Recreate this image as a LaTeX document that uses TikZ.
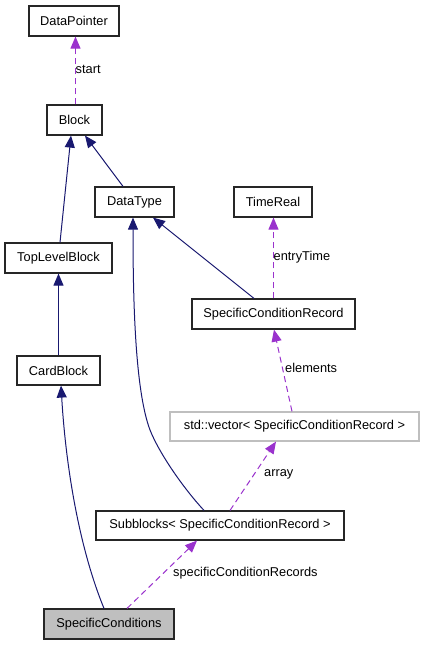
\documentclass[tikz,border=0pt]{standalone}
\usepackage{fontspec}
\setmainfont{Liberation Sans}
\usetikzlibrary{arrows.meta}
\definecolor{edgeblue}{HTML}{191970}
\definecolor{edgepurple}{HTML}{9A32CD}
\definecolor{boxgray}{HTML}{BFBFBF}
\begin{document}
\begin{tikzpicture}[x=1pt,y=-1pt,
  box/.style={draw=black!85,line width=1.2pt,rectangle,inner sep=0pt,minimum height=30pt,font=\fontsize{12.8}{15}\selectfont},
  inh/.style={draw=edgeblue,line width=1pt,-{Triangle[length=12pt,width=10pt]}},
  use/.style={draw=edgepurple,line width=1pt,dash pattern=on 6pt off 4pt,-{Triangle[length=12pt,width=10pt,fill=edgepurple]}},
  lbl/.style={anchor=west,inner sep=0pt,font=\fontsize{12.8}{15}\selectfont}]
\useasboundingbox (0,0) rectangle (424,645);
\node[box,minimum width=90pt] (DP) at (74,21) {DataPointer};
\node[box,minimum width=55pt] (Block) at (74.5,120) {Block};
\node[box,minimum width=79pt] (DT) at (134.5,202) {DataType};
\node[box,minimum width=78pt] (TR) at (273,202) {TimeReal};
\node[box,minimum width=107pt] (TLB) at (58.5,258) {TopLevelBlock};
\node[box,minimum width=163pt] (SCR) at (273.5,314) {SpecificConditionRecord};
\node[box,minimum width=83pt,minimum height=29pt] (CB) at (58.5,370.5) {CardBlock};
\node[box,draw=boxgray,minimum width=249pt,minimum height=29pt] (Vec) at (294.5,426.5) {std::vector< SpecificConditionRecord >};
\node[box,minimum width=248pt,minimum height=29pt] (Sub) at (220,525.5) {Subblocks< SpecificConditionRecord >};
\node[box,fill=boxgray,minimum width=130pt] (SC) at (109,624) {SpecificConditions};

\draw[use] ([xshift=1pt]Block.north) -- ([xshift=1.5pt]DP.south);
\draw[inh] ([xshift=1.5pt]TLB.north) -- ([xshift=-3.5pt]Block.south);
\draw[inh] ([xshift=-11.5pt]DT.north) -- ([xshift=10.5pt]Block.south);
\draw[inh] (CB.north) -- (TLB.south);
\draw[inh] ([xshift=-19.5pt]SCR.north) -- ([xshift=18.5pt]DT.south);
\draw[use] (SCR.north) -- ([xshift=0.5pt]TR.south);
\draw[use] ([xshift=-2.5pt]Vec.north) -- ([xshift=0.5pt]SCR.south);
\draw[use] ([xshift=10pt]Sub.north) -- ([xshift=-18.5pt]Vec.south);
\draw[inh] ([xshift=-16pt]Sub.north) .. controls (185,490) and (160,455) .. (150,430) .. controls (135,390) and (133,300) .. ([xshift=-1.5pt]DT.south);
\draw[inh] ([xshift=-5pt]SC.north) .. controls (80,550) and (66,470) .. ([xshift=2.5pt]CB.south);
\draw[use] ([xshift=18pt]SC.north) -- ([xshift=-23pt]Sub.south);

\node[lbl] (l1) at (75.5,69) {start};
\node[lbl] (l2) at (273.5,257) {entryTime};
\node[lbl] (l3) at (285,368) {elements};
\node[lbl] (l4) at (264,474) {array};
\node[lbl] (l5) at (173,573) {specificConditionRecords};
\end{tikzpicture}
\end{document}
